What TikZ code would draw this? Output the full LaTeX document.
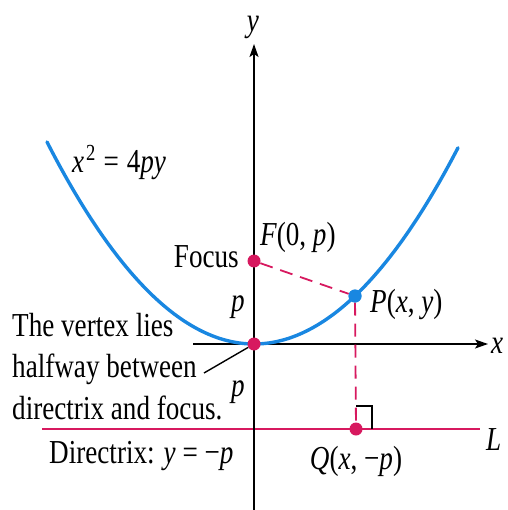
\documentclass[tikz,border=0pt]{standalone}
\usepackage{fontspec}
\setmainfont{Liberation Serif}[FakeStretch=0.81]
\usetikzlibrary{arrows.meta}
\definecolor{parab}{RGB}{25,135,225}
\definecolor{mag}{RGB}{215,25,95}
\begin{document}
\begin{tikzpicture}[x=1pt,y=-1pt,
  lbl/.style={inner sep=0pt, font=\fontsize{33.5}{41}\selectfont},
  axis/.style={line width=1.8pt, -{Stealth[length=13pt,width=9pt,inset=3pt]}},
  dot/.style={circle, fill=mag, inner sep=0pt, minimum size=13pt},
  bdot/.style={circle, fill=parab, inner sep=0pt, minimum size=13pt},
  dsh/.style={mag, line width=1.8pt, dash pattern=on 13pt off 8pt}]
\path[use as bounding box] (0,0) rectangle (507,510);
% directrix
\draw[mag, line width=2.2pt] (42,429) coordinate (dl) -- (480,429) coordinate (dr);
% axes
\draw[axis] (193,344) coordinate (xs) -- (488,344) coordinate (xe);
\draw[axis] (254,512) coordinate (ys) -- (254,44) coordinate (ye);
% parabola
\draw[parab, line width=3.4pt, line cap=round] plot[domain=47:458, samples=90, smooth] (\x, {344-0.00471*(\x-254)*(\x-254)});
% points
\node[dot] (F) at (254,261) {};
\node[dot] (O) at (254,344) {};
\node[bdot] (P) at (355,296) {};
\node[dot] (Q) at (356,429) {};
\draw[dsh] (F) -- (P);
\draw[dsh] (P) -- (Q);
\node[bdot] at (355,296) {};
% right angle mark
\draw[line width=1.6pt] (356,406) -- (372,406) -- (372,429);
% leader
\coordinate (lead) at (204,373);
\draw[line width=1.4pt] (lead) -- (O);
% labels
\node[lbl, anchor=base] (ylab) at (253,32) {\itshape y};
\node[lbl, anchor=base west] (eq) at (72,173) {\itshape x\hspace{2pt}\raisebox{12pt}{\fontsize{23}{23}\selectfont\upshape 2}\upshape\hspace{8pt}=\hspace{8pt}4\itshape py};
\node[lbl, anchor=base west] (Flab) at (260,245) {\itshape F\upshape(0, \itshape p\upshape)};
\node[lbl, anchor=base east] (focus) at (239,267) {Focus};
\node[lbl, anchor=base] (p1) at (238,311) {\itshape p};
\node[lbl, anchor=base] (p2) at (238,396) {\itshape p};
\node[lbl, anchor=base west] (Plab) at (370,312) {\itshape P\upshape(\itshape x\upshape, \itshape y\upshape)};
\node[lbl, anchor=base west] (v1) at (12,336) {The vertex lies};
\node[lbl, anchor=base west] (v2) at (12,377) {halfway between};
\node[lbl, anchor=base west] (v3) at (12,419) {directrix and focus.};
\node[lbl, anchor=base west] (dir) at (49,463) {Directrix: \itshape y\upshape{} = −\itshape p};
\node[lbl, anchor=base] (Qlab) at (356,469) {\itshape Q\upshape(\itshape x\upshape, −\itshape p\upshape)};
\node[lbl, anchor=base west] (L) at (486,450) {\itshape L};
\node[lbl, anchor=base west] (xlab) at (491,353) {\itshape x};
\end{tikzpicture}
\end{document}
